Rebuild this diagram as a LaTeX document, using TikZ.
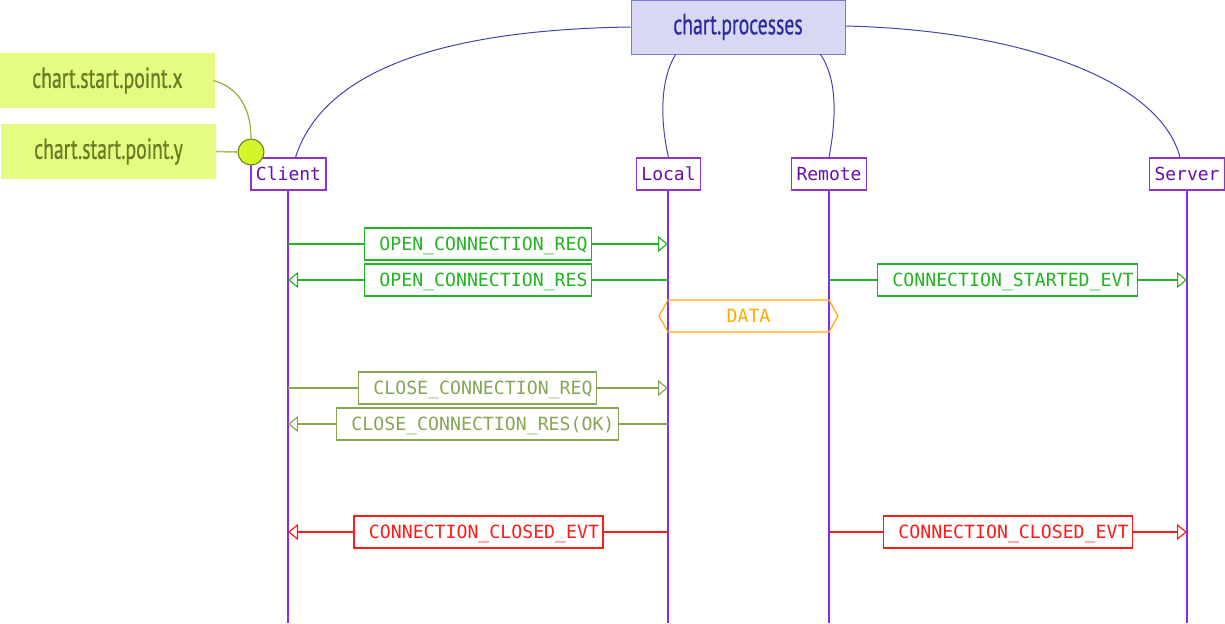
\documentclass[tikz,border=0pt]{standalone}
\usepackage{fontspec}
\newfontfamily\gill[FakeStretch=0.68,FakeBold=0.6]{PT Sans}
\newfontfamily\mono{DejaVu Sans Mono}
\usetikzlibrary{arrows.meta,calc}
\definecolor{msggreen}{HTML}{22B422}
\definecolor{msgolive}{HTML}{86A654}
\definecolor{msgred}{HTML}{FF1A1A}
\definecolor{msgorange}{HTML}{FFAA00}
\definecolor{procborder}{HTML}{9433C8}
\definecolor{proctext}{HTML}{6A0DAD}
\definecolor{lifeline}{HTML}{8A2BE2}
\definecolor{titlefill}{HTML}{D8D8F4}
\definecolor{titleborder}{HTML}{7878D8}
\definecolor{titletext}{HTML}{2B2B9C}
\definecolor{linkblue}{HTML}{4444B0}
\definecolor{ptfill}{HTML}{E4FC82}
\definecolor{pttext}{HTML}{6B7A22}
\definecolor{ptline}{HTML}{9AAE30}
\definecolor{ptdot}{HTML}{D4F52A}
\tikzset{
  x=0.5pt, y=-0.5pt,
  titlebox/.style={draw=titleborder, fill=titlefill, text=titletext, font=\gill\fontsize{14.5}{16}\selectfont, minimum width=107pt, minimum height=27pt, inner sep=0pt},
  ptbox/.style={fill=ptfill, text=pttext, font=\gill\fontsize{14.5}{16}\selectfont, minimum width=107.5pt, minimum height=27.5pt, inner sep=0pt},
  procbox/.style={draw=procborder, fill=white, text=proctext, font=\mono\fontsize{9}{10}\selectfont, minimum height=16pt, inner xsep=2.5pt, inner ysep=0pt, text height=6.6pt, text depth=0pt, line width=0.6pt},
  lifelinestyle/.style={draw=lifeline, line width=0.6pt},
  msglabel/.style={draw, fill=white, font=\mono\fontsize{9.1}{10}\selectfont, minimum height=16pt, inner xsep=2pt, inner ysep=0pt, text height=6.6pt, text depth=0pt, line width=0.6pt},
  msgline/.style={line width=0.6pt},
  msgarrow/.style={line width=0.6pt, -{Triangle[open, length=5pt, width=8pt]}},
  link/.style={draw=linkblue, line width=0.5pt},
}
\begin{document}
\begin{tikzpicture}
\path[use as bounding box] (0,0) rectangle (1225,623);

% lifelines
\coordinate (clientEnd) at (288,623);
\coordinate (localEnd) at (668,623);
\coordinate (remoteEnd) at (829,623);
\coordinate (serverEnd) at (1187,623);
\draw[lifelinestyle] (288,174) -- (clientEnd);
\draw[lifelinestyle] (668,174) -- (localEnd);
\draw[lifelinestyle] (829,174) -- (remoteEnd);
\draw[lifelinestyle] (1187,174) -- (serverEnd);

% title and process boxes
\node[titlebox] (proc) at (738,27) {chart.processes};
\node[procbox] (client) at (288.5,174) {Client};
\node[procbox] (local) at (668.5,174) {Local};
\node[procbox] (remote) at (829,174) {Remote};
\node[procbox] (server) at (1187,174) {Server};

\draw[link] (proc.west) .. controls (420,30) and (320,80) .. ($(client.north)+(7,0)$);
\draw[link] ($(proc.south west)+(45,0)$) .. controls (660,80) and (660,120) .. (local.north);
\draw[link] ($(proc.south east)+(-25,0)$) .. controls (838,80) and (836,120) .. (remote.north);
\draw[link] ($(proc.east)+(0,-1)$) .. controls (1020,30) and (1160,80) .. ($(server.north)+(-7,0)$);

% start point
\node[ptbox] (px) at (107.5,80.5) {chart.start.point.x};
\node[ptbox] (py) at (108.5,151.5) {chart.start.point.y};
\node[circle, draw=pttext, fill=ptdot, minimum size=13pt, inner sep=0pt, line width=0.5pt] (dot) at (251,152) {};
\draw[draw=ptline, line width=0.6pt] ($(px.east)+(-2,0)$) .. controls (240,88) and (251,110) .. (dot.north);
\draw[draw=ptline!80, line width=0.8pt] (py.east) -- (dot.west);

% messages
\node[msglabel, draw=msggreen, text=msggreen] (m1) at (478,244) {\ OPEN\_CONNECTION\_REQ};
\draw[msgline, msggreen] (m1.west) -- (m1.west -| clientEnd);
\draw[msgarrow, msggreen] (m1.east) -- (m1.east -| localEnd);

\node[msglabel, draw=msggreen, text=msggreen] (m2) at (478,280) {\ OPEN\_CONNECTION\_RES};
\draw[msgline, msggreen] (m2.east) -- (m2.east -| localEnd);
\draw[msgarrow, msggreen] (m2.west) -- (m2.west -| clientEnd);

\node[msglabel, draw=msggreen, text=msggreen] (m3) at (1007.5,280) {\ CONNECTION\_STARTED\_EVT};
\draw[msgline, msggreen] (m3.west) -- (m3.west -| remoteEnd);
\draw[msgarrow, msggreen] (m3.east) -- (m3.east -| serverEnd);

\coordinate (dl) at (668,316);
\coordinate (dr) at (829,316);
\draw[msgorange, line width=0.6pt] ($(dl)+(0,-16)$) -- ($(dr)+(0,-16)$) -- ($(dr)+(9,0)$) -- ($(dr)+(0,16)$) -- ($(dl)+(0,16)$) -- ($(dl)+(-9,0)$) -- cycle;
\node[font=\mono\fontsize{9.1}{10}\selectfont, text=msgorange, text height=6.6pt, text depth=0pt, inner sep=0pt] (data) at (748.5,316) {DATA};

\node[msglabel, draw=msgolive, text=msgolive] (m4) at (477.5,388) {\ CLOSE\_CONNECTION\_REQ};
\draw[msgline, msgolive] (m4.west) -- (m4.west -| clientEnd);
\draw[msgarrow, msgolive] (m4.east) -- (m4.east -| localEnd);

\node[msglabel, draw=msgolive, text=msgolive] (m5) at (477.5,424) {\ CLOSE\_CONNECTION\_RES(OK)};
\draw[msgline, msgolive] (m5.east) -- (m5.east -| localEnd);
\draw[msgarrow, msgolive] (m5.west) -- (m5.west -| clientEnd);

\node[msglabel, draw=msgred, text=msgred] (m6) at (478.5,532) {\ CONNECTION\_CLOSED\_EVT};
\draw[msgline, msgred] (m6.east) -- (m6.east -| localEnd);
\draw[msgarrow, msgred] (m6.west) -- (m6.west -| clientEnd);

\node[msglabel, draw=msgred, text=msgred] (m7) at (1008,532) {\ CONNECTION\_CLOSED\_EVT};
\draw[msgline, msgred] (m7.west) -- (m7.west -| remoteEnd);
\draw[msgarrow, msgred] (m7.east) -- (m7.east -| serverEnd);
\end{tikzpicture}
\end{document}
